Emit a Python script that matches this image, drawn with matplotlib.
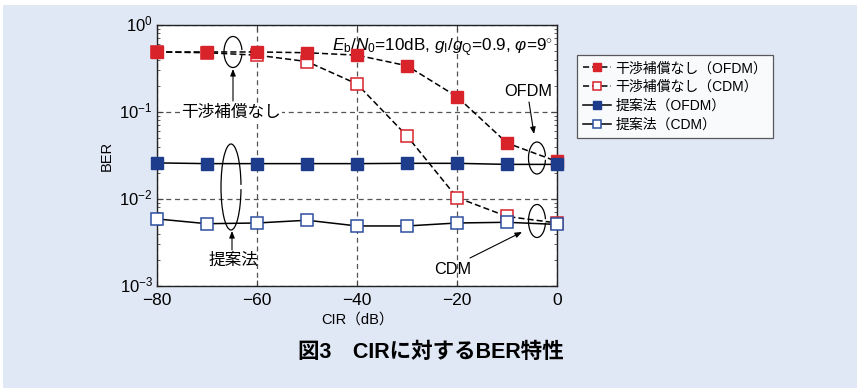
import matplotlib
matplotlib.use("Agg")
import matplotlib.pyplot as plt
from matplotlib.patches import Arc, Rectangle
from matplotlib.transforms import ScaledTranslation
import numpy as np

plt.rcParams['font.family'] = ['Liberation Sans', 'Noto Sans CJK JP', 'DejaVu Sans']
plt.rcParams['mathtext.fontset'] = 'custom'
plt.rcParams['mathtext.rm'] = 'Liberation Sans'
plt.rcParams['mathtext.it'] = 'Liberation Sans:italic'

cir = [-80, -70, -60, -50, -40, -30, -20, -10, 0]
ber_nocomp_ofdm = [0.49, 0.49, 0.49, 0.48, 0.45, 0.34, 0.15, 0.044, 0.027]
ber_nocomp_cdm = [0.49, 0.48, 0.45, 0.38, 0.21, 0.053, 0.0104, 0.0063, 0.0053]
ber_prop_ofdm = [0.026, 0.0255, 0.0255, 0.0255, 0.0255, 0.0257, 0.0257, 0.025, 0.025]
ber_prop_cdm = [0.0059, 0.0052, 0.0053, 0.0057, 0.0049, 0.0049, 0.0053, 0.0054, 0.0051]
labels = ['干渉補償なし（OFDM）', '干渉補償なし（CDM）', '提案法（OFDM）', '提案法（CDM）']
xticks = [-80, -60, -40, -20, 0]
xticklabels = ['−80', '−60', '−40', '−20', '0']

W, H = 857, 388
fig = plt.figure(figsize=(W / 100, H / 100), dpi=100)
fig.patch.set_facecolor('white')
bg = '#e1e8f5'
fig.patches.append(Rectangle((3 / W, 0), 1, 1 - 5 / H, transform=fig.transFigure,
                             facecolor=bg, edgecolor='none', zorder=-10))

def px(x, y):
    return (x / W, 1 - y / H)

L, R, T, B = 157, 557, 25, 286
ax = fig.add_axes([L / W, 1 - B / H, (R - L) / W, (B - T) / H])
ax.set_facecolor('white')
ax.set_yscale('log')
ax.set_xlim(-80, 0)
ax.set_ylim(1e-3, 1)

red = '#d8232b'
blue = '#1e3c8c'
ms = 8.5
ax.plot(cir, ber_nocomp_ofdm, color='black', ls=(0, (4, 2)), lw=1.1, marker='s', ms=ms,
        mfc=red, mec=red, clip_on=False, zorder=5, label=labels[0])
ax.plot(cir, ber_nocomp_cdm, color='black', ls=(0, (4, 2)), lw=1.1, marker='s', ms=ms,
        mfc='white', mec=red, mew=1.1, clip_on=False, zorder=4, label=labels[1])
ax.plot(cir, ber_prop_ofdm, color='black', ls='-', lw=1.1, marker='s', ms=ms,
        mfc=blue, mec=blue, clip_on=False, zorder=6, label=labels[2])
ax.plot(cir, ber_prop_cdm, color='black', ls='-', lw=1.1, marker='s', ms=ms,
        mfc='white', mec='#2c4f9e', mew=1.1, clip_on=False, zorder=6, label=labels[3])

ax.set_xticks(xticks)
ax.set_xticklabels(xticklabels, fontsize=12.5)
ax.set_yticks([1e-3, 1e-2, 1e-1, 1])
ax.set_yticklabels(['$10^{-3}$', '$10^{-2}$', '$10^{-1}$', '$10^{0}$'], fontsize=12)
ax.tick_params(which='both', direction='in', top=True, right=True, color='#444444')
ax.tick_params(which='major', length=4, pad=3)
ax.tick_params(axis='x', pad=5)
ax.tick_params(which='minor', length=2)
ax.yaxis.set_minor_locator(matplotlib.ticker.LogLocator(base=10, subs=np.arange(2, 10)))
ax.yaxis.set_minor_formatter(matplotlib.ticker.NullFormatter())
ax.grid(True, which='major', ls=(0, (4, 3)), color='#555555', lw=0.9)
for s in ax.spines.values():
    s.set_linewidth(1.0)
    s.set_color('#222222')

shift = ScaledTranslation(0, 2 / 100, fig.dpi_scale_trans)
for lab in ax.get_yticklabels():
    lab.set_transform(lab.get_transform() + shift)

ax.set_ylabel('BER', fontsize=10.5, labelpad=4)
ax.set_xlabel('CIR（dB）', fontsize=10.5, labelpad=3)

ax.text(0.99, 0.955, r'$\mathit{E}_{\mathrm{b}}/\mathit{N}_{0}$=10dB, $\mathit{g}_{\mathrm{I}}/\mathit{g}_{\mathrm{Q}}$=0.9, $\mathit{\varphi}$=9$^{\circ}$',
        transform=ax.transAxes, ha='right', va='top', fontsize=12.3)

def arc(cx, cy, w, h, t1=25, t2=335):
    a = Arc(px(cx, cy), w / W, h / H, theta1=t1, theta2=t2, transform=fig.transFigure,
            color='black', lw=0.9, zorder=10)
    fig.patches.append(a)

arc(233, 52, 18, 31)
arc(231, 187, 20, 86)
arc(537, 158, 17, 32)
arc(537, 221, 17, 33)

def arrow(x0, y0, x1, y1):
    fig.add_artist(matplotlib.patches.FancyArrowPatch(px(x0, y0), px(x1, y1),
                   transform=fig.transFigure, arrowstyle='-|>,head_length=4,head_width=1.6',
                   color='black', lw=0.8, zorder=10, shrinkA=0, shrinkB=0))

arrow(233, 101, 233, 69)
arrow(232, 250, 232, 231)
arrow(529, 102, 534, 134)
arrow(470, 258, 522, 232)

fig.text(*px(231, 112), '干渉補償なし', ha='center', va='center', fontsize=12,
         bbox=dict(facecolor='white', edgecolor='none', pad=1.0))
fig.text(*px(233, 260), '提案法', ha='center', va='center', fontsize=12)
fig.text(*px(528, 91), 'OFDM', ha='center', va='center', fontsize=11.7)
fig.text(*px(453, 269), 'CDM', ha='center', va='center', fontsize=11.7)

leg = fig.legend(loc='upper left', bbox_to_anchor=px(577, 55), fontsize=10,
                 frameon=True, fancybox=False, handlelength=2.0, handletextpad=0.3,
                 borderpad=0.45, labelspacing=0.35, borderaxespad=0, markerscale=0.75)
leg.get_frame().set_edgecolor('#333333')
leg.get_frame().set_linewidth(0.9)

fig.text(*px(431, 352), '図3　CIRに対するBER特性', ha='center', va='center',
         fontsize=15.5, fontweight='bold')

fig.savefig('out.png', dpi=100, facecolor=fig.get_facecolor())
